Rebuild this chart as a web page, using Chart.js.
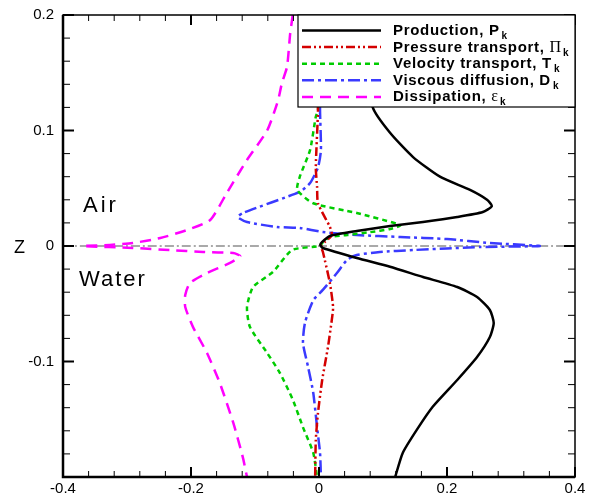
<!DOCTYPE html>
<html>
<head>
<meta charset="utf-8">
<script src="https://cdn.jsdelivr.net/npm/chart.js@4/dist/chart.umd.min.js"></script>
<style>
body{margin:0;background:#fff;}
canvas{display:block;}
</style>
</head>
<body>
<canvas id="budgetChart" width="591" height="496"></canvas>
<script>

// Data (profiles vs z)

const prodZ = [0.2,0.12,0.098,0.077,0.06,0.0485,0.04,0.0346,0.0294,0.0251,0.0208,0.0173,0.013,0.0087,0.0035,0.0009,-0.0017,-0.0104,-0.018,-0.0268,-0.0355,-0.0442,-0.0554,-0.0667,-0.0788,-0.0961,-0.116,-0.139,-0.159,-0.179,-0.2];
const prodX = [0.052,0.084,0.111,0.147,0.189,0.236,0.2625,0.27,0.256,0.216,0.1625,0.111,0.059,0.017,0.005,0.002,0.006,0.059,0.111,0.1625,0.216,0.247,0.267,0.273,0.267,0.247,0.216,0.178,0.153,0.131,0.119];

const presZ = [0.2,0.118,0.068,0.051,0.037,0.0165,0.0095,0.0035,0,-0.005,-0.012,-0.032,-0.053,-0.064,-0.0875,-0.116,-0.1446,-0.168,-0.2];
const presX = [-0.002,-0.0016,-0.005,-0.003,-0.0016,0.017,0.02,0.009,0.003,0.006,0.009,0.017,0.022,0.02,0.014,0.005,-0.0016,-0.005,-0.006];

const veloZ = [0.2,0.16,0.118,0.112,0.083,0.06,0.0485,0.037,0.0286,0.018,0.0147,0.012,0.0095,0.0078,0.0026,0,-0.0035,-0.0225,-0.0355,-0.0528,-0.07,-0.0926,-0.11,-0.133,-0.157,-0.179,-0.2];
const veloX = [0.0,0.002,-0.0016,-0.005,-0.014,-0.03,-0.034,-0.009,0.059,0.127,0.111,0.08,0.044,0.017,0.005,0.002,-0.042,-0.072,-0.103,-0.1125,-0.108,-0.081,-0.061,-0.041,-0.025,-0.009,-0.003];

const viscZ = [0.2,0.118,0.083,0.068,0.0545,0.047,0.0286,0.025,0.0208,0.0165,0.0156,0.0121,0.0095,0.0078,0.006,0.0026,0,-0.0009,-0.0035,-0.0052,-0.0078,-0.012,-0.0234,-0.038,-0.047,-0.0667,-0.084,-0.1048,-0.127,-0.157,-0.179,-0.2];
const viscX = [0.002,0.0016,0.003,-0.0016,-0.014,-0.03,-0.119,-0.127,-0.1125,-0.066,-0.03,0.006,0.059,0.127,0.2,0.267,0.345,0.252,0.147,0.095,0.059,0.044,0.028,0.006,-0.009,-0.022,-0.025,-0.017,-0.009,-0.003,0.0016,0.003];

const dissZ = [0.2,0.184,0.155,0.141,0.126,0.1,0.0745,0.046,0.0225,0.0139,0.0069,0.0026,0.0009,0,-0.0017,-0.0035,-0.0052,-0.0061,-0.0087,-0.0147,-0.0234,-0.032,-0.0424,-0.0528,-0.07,-0.0926,-0.1186,-0.153,-0.183,-0.2];
const dissX = [-0.041,-0.045,-0.05,-0.058,-0.064,-0.081,-0.1125,-0.144,-0.17,-0.206,-0.248,-0.291,-0.327,-0.369,-0.291,-0.233,-0.181,-0.134,-0.123,-0.139,-0.175,-0.2016,-0.209,-0.209,-0.197,-0.175,-0.155,-0.134,-0.119,-0.1125];

const zeroX = [-0.4,0.4];
const zeroZ = [0,0];

const xTickLabels = [-0.4,-0.2,0,0.2,0.4];
const yTickLabels = [0.2,0.1,0,-0.1];

const legendText = ["Production, P","Pressure transport, ","Velocity transport, T","Viscous diffusion, D","Dissipation, "];
const legendGreek = ["","\u03A0","","","\u03B5"];

function pts(xs,zs){
return xs.map(function(v,i){ return {x:v,y:zs[i]}; });
}

function isLabel(list,v){
return list.some(function(t){ return Math.abs(t-v)<1e-6; });
}

const FONT = "'Liberation Sans', Arial, sans-serif";

// Frame, inward ticks, texts, legend

const decor = {
id:"decor",
afterDraw(chart){
const ctx = chart.ctx;
const a = chart.chartArea;
const xs = chart.scales.x;
const ys = chart.scales.y;

ctx.save();
ctx.strokeStyle = "#000";
ctx.setLineDash([]);

// ticks
xs.ticks.forEach(function(t){
const p = xs.getPixelForValue(t.value);
const len = isLabel(xTickLabels,t.value) ? 10 : 6;
ctx.lineWidth = isLabel(xTickLabels,t.value) ? 2 : 1;
ctx.beginPath();
ctx.moveTo(p,a.bottom); ctx.lineTo(p,a.bottom-len);
ctx.moveTo(p,a.top); ctx.lineTo(p,a.top+len);
ctx.stroke();
});
ys.ticks.forEach(function(t){
const p = ys.getPixelForValue(t.value);
const major = Math.abs(t.value*10-Math.round(t.value*10))<1e-6;
const len = major ? 11 : 7;
ctx.lineWidth = major ? 2 : 1;
ctx.beginPath();
ctx.moveTo(a.left,p); ctx.lineTo(a.left+len,p);
ctx.moveTo(a.right,p); ctx.lineTo(a.right-len,p);
ctx.stroke();
});

// frame
ctx.lineWidth = 1.5;
ctx.strokeRect(a.left,a.top,a.right-a.left,a.bottom-a.top);
ctx.lineWidth = 2.5;
ctx.beginPath();
ctx.moveTo(a.left,a.top); ctx.lineTo(a.left,a.bottom); ctx.lineTo(a.right,a.bottom);
ctx.stroke();

// labels
ctx.fillStyle = "#000";
ctx.textBaseline = "alphabetic";
ctx.textAlign = "left";
ctx.font = "18px " + FONT;
ctx.fillText("Z",14,253);
ctx.font = "22px " + FONT;
ctx.letterSpacing = "3px";
ctx.fillText("Air",83,212);
ctx.letterSpacing = "2px";
ctx.fillText("Water",79,286);

// legend box
const bx = 298, by = a.top, bw = a.right-298, bh = 92;
ctx.letterSpacing = "0px";
ctx.fillStyle = "#fff";
ctx.fillRect(bx,by,bw,bh);
ctx.lineWidth = 1.2;
ctx.strokeStyle = "#000";
ctx.strokeRect(bx,by,bw,bh);

const sets = chart.data.datasets;
for(let i=0;i<legendText.length;i++){
const base = 35 + i*16.6;
const ds = sets[i];
ctx.strokeStyle = ds.borderColor;
ctx.lineWidth = ds.borderWidth;
ctx.setLineDash(ds.borderDash || []);
ctx.beginPath();
ctx.moveTo(302,base-4.5); ctx.lineTo(381,base-4.5);
ctx.stroke();
ctx.setLineDash([]);

ctx.fillStyle = "#000";
ctx.font = "bold 15px " + FONT;
ctx.letterSpacing = "0.7px";
ctx.fillText(legendText[i],393,base);
let w = 393 + ctx.measureText(legendText[i]).width;
if(legendGreek[i]){
ctx.letterSpacing = "0px";
ctx.font = "16px 'Liberation Serif', 'Times New Roman', serif";
ctx.fillText(legendGreek[i],w,base);
w += ctx.measureText(legendGreek[i]).width;
}
ctx.letterSpacing = "0px";
ctx.font = "bold 10px " + FONT;
ctx.fillText("k",w+2,base+4);
}
ctx.restore();
}
};

window.onload = function(){

new Chart(
document.getElementById("budgetChart"),
{
type:"scatter",
data:{
datasets:[
{
label:"Production",
data:pts(prodX,prodZ),
borderColor:"#000000",
borderWidth:2.5
},
{
label:"Pressure transport",
data:pts(presX,presZ),
borderColor:"#d40000",
borderWidth:2.5,
borderDash:[9,3,2,3,2,3]
},
{
label:"Velocity transport",
data:pts(veloX,veloZ),
borderColor:"#00cc00",
borderWidth:2.5,
borderDash:[5,4]
},
{
label:"Viscous diffusion",
data:pts(viscX,viscZ),
borderColor:"#3a3aff",
borderWidth:2.5,
borderDash:[12,4,3,4]
},
{
label:"Dissipation",
data:pts(dissX,dissZ),
borderColor:"#ff00ff",
borderWidth:2.5,
borderDash:[11,7]
},
{
label:"z=0",
data:pts(zeroX,zeroZ),
borderColor:"#555555",
borderWidth:1.2,
borderDash:[9,3,2,3]
}
].map(function(d){
d.showLine = true;
d.pointRadius = 0;
d.fill = false;
d.tension = 0.2;
return d;
})
},
options:{
responsive:false,
animation:false,
layout:{padding:{left:0,top:15,right:16,bottom:0}},
plugins:{legend:{display:false},tooltip:{enabled:false}},
scales:{
x:{
type:"linear",
min:-0.4,max:0.4,
grid:{display:false},
border:{display:false},
afterFit:function(s){ s.height = 19; },
ticks:{
stepSize:0.04,
autoSkip:false,
maxRotation:0,
padding:-5,
color:"#000",
font:{family:FONT,size:15},
callback:function(v){
return isLabel(xTickLabels,v) ? String(Math.round(v*10)/10) : "";
}
}
},
y:{
type:"linear",
min:-0.2,max:0.2,
grid:{display:false},
border:{display:false},
afterFit:function(s){ s.width = 63; },
ticks:{
stepSize:0.02,
autoSkip:false,
padding:1,
color:"#000",
font:{family:FONT,size:15},
callback:function(v){
return isLabel(yTickLabels,v) ? String(Math.round(v*10)/10) : "";
}
}
}
}
},
plugins:[decor]
}
);

};

</script>
</body>
</html>
